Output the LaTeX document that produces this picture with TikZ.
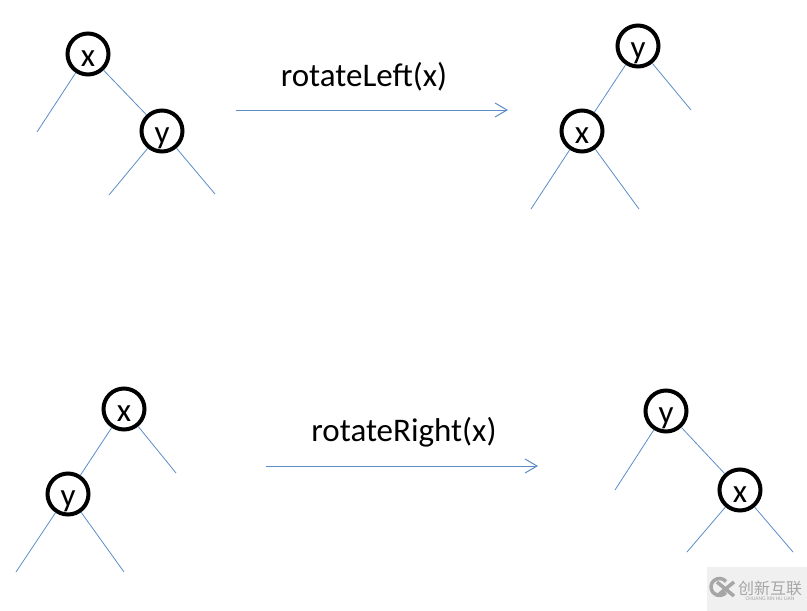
\documentclass[tikz,border=0pt]{standalone}
\usepackage{fontspec}
\setmainfont{Carlito}
\newfontfamily\cjk{Noto Sans CJK SC}
\usetikzlibrary{arrows.meta}
\definecolor{linkblue}{HTML}{5B8CC8}
\definecolor{markgray}{HTML}{A6A6A6}
\tikzset{
	treenode/.style={circle,draw=black,line width=4pt,minimum size=41pt,inner sep=0pt,text height=24pt,text depth=0pt,font=\fontsize{33}{33}\selectfont},
	link/.style={draw=linkblue,line width=.8pt},
	rotatearrow/.style={draw=linkblue,line width=1pt,-{Straight Barb[length=12pt,width=14pt]}},
	rotatelabel/.style={font=\fontsize{33}{33}\selectfont},
}
\begin{document}
\begin{tikzpicture}[x=1pt,y=-1pt]
	\useasboundingbox (0,0) rectangle (807,611);
	% rotateLeft, before
	\node[treenode] (ax) at (88,54) {x};
	\node[treenode] (ay) at (162,131) {y};
	\coordinate (a1) at (37,132);
	\coordinate (a2) at (109,195);
	\coordinate (a3) at (215,194);
	\draw[link] (ax)--(a1);
	\draw[link] (ax)--(ay);
	\draw[link] (ay)--(a2);
	\draw[link] (ay)--(a3);
	% rotateLeft, after
	\node[treenode] (by) at (638,46) {y};
	\node[treenode] (bx) at (582,131) {x};
	\coordinate (b1) at (691,110);
	\coordinate (b2) at (531,209);
	\coordinate (b3) at (639,209);
	\draw[link] (by)--(b1);
	\draw[link] (by)--(bx);
	\draw[link] (bx)--(b2);
	\draw[link] (bx)--(b3);
	% rotateRight, before
	\node[treenode] (cx) at (124,409) {x};
	\node[treenode] (cy) at (68,494) {y};
	\coordinate (c1) at (176,473);
	\coordinate (c2) at (16,572);
	\coordinate (c3) at (124,572);
	\draw[link] (cx)--(c1);
	\draw[link] (cx)--(cy);
	\draw[link] (cy)--(c2);
	\draw[link] (cy)--(c3);
	% rotateRight, after
	\node[treenode] (dy) at (666,411) {y};
	\node[treenode] (dx) at (740,490) {x};
	\coordinate (d1) at (615,490);
	\coordinate (d2) at (687,552);
	\coordinate (d3) at (793,552);
	\draw[link] (dy)--(d1);
	\draw[link] (dy)--(dx);
	\draw[link] (dx)--(d2);
	\draw[link] (dx)--(d3);
	% arrows
	\coordinate (l0) at (236,110);
	\coordinate (l1) at (508,110);
	\coordinate (r0) at (266,466);
	\coordinate (r1) at (538,466);
	\draw[rotatearrow] (l0)--(l1);
	\draw[rotatearrow] (r0)--(r1);
	\node[rotatelabel] (leftlabel) at (364,77) {rotateLeft(x)};
	\node[rotatelabel] (rightlabel) at (404,432) {rotateRight(x)};
	% corner mark
	\fill[black!6] (707,567) rectangle (807,611);
	\draw[markgray,line width=3.5pt] (726,581.5) arc (-40:-320:8.5);
	\draw[markgray,line width=3.5pt] (717,582)--(734,596) (734,582)--(717,596);
	\node[text=markgray,font=\cjk\fontsize{16}{16}\selectfont,inner sep=0pt] (markcn) at (770,588) {创新互联};
	\node[text=markgray,font=\fontsize{5.5}{5.5}\selectfont,inner sep=0pt] (markpy) at (770,599) {CHUANG XIN HU LIAN};
\end{tikzpicture}
\end{document}
